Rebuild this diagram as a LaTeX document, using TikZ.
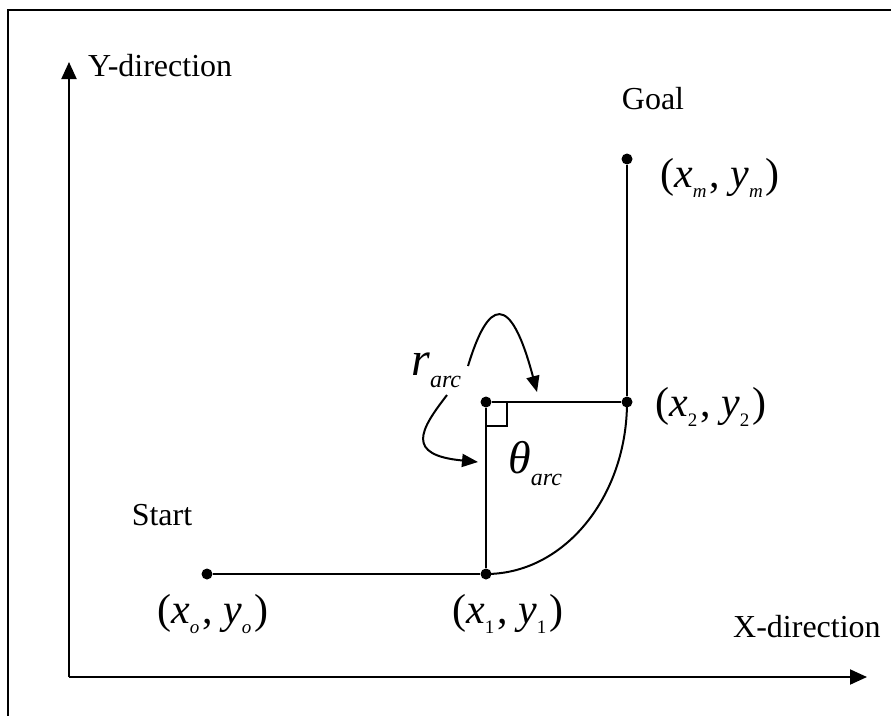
\documentclass[tikz,border=0pt]{standalone}
\usepackage{fontspec}
\setmainfont{Liberation Serif}
\usepackage{tikz}
\usetikzlibrary{arrows.meta, positioning}
\definecolor{colInk}{HTML}{000000}
\newcommand{\ptsub}[1]{\raisebox{-10pt}{\fontsize{19}{19}\selectfont #1}\kern3pt}
\newcommand{\arcsub}[1]{\raisebox{-12pt}{\fontsize{24}{24}\selectfont\itshape #1}}
\tikzset{
  waypt/.style={circle, fill=colInk, inner sep=0pt, minimum size=11pt},
  txtlbl/.style={inner sep=0pt, text=colInk,
    font=\fontsize{32}{36}\selectfont},
  mathlbl/.style={inner sep=0pt, text=colInk, anchor=base west,
    font=\fontsize{42}{48}\selectfont},
  pathline/.style={line width=2pt, draw=colInk},
  axisarr/.style={
    -{Triangle[length=17pt,width=15pt]},
    line width=2pt, draw=colInk
  },
  bendarr/.style={
    -{Triangle[length=16pt,width=13pt]},
    line width=2pt, draw=colInk
  }
}
\begin{document}
\begin{tikzpicture}[x=1pt, y=-1pt]
  \useasboundingbox (0,0) rectangle (891,715);
  \draw[line width=2.2pt, draw=colInk] (8,10) rectangle (930,760);
  % axes
  \coordinate (orig) at (69,677);
  \coordinate (ytip) at (69,62);
  \coordinate (xtip) at (867,677);
  \draw[axisarr] (orig) -- (ytip);
  \draw[axisarr] (orig) -- (xtip);
  \node[txtlbl, anchor=west] (ylbl) at (88,66) {Y-direction};
  \node[txtlbl, anchor=west] (xlbl) at (733,627) {X-direction};
  % way points
  \node[waypt] (start) at (207,574) {};
  \node[waypt] (p1)    at (486,574) {};
  \node[waypt] (ctr)   at (486,402) {};
  \node[waypt] (p2)    at (627,402) {};
  \node[waypt] (goal)  at (627,159) {};
  \draw[pathline] (start) -- (p1);
  \draw[pathline] (p1) -- (ctr);
  \draw[pathline] (ctr) -- (p2);
  \draw[pathline] (p2) -- (goal);
  \draw[pathline] (p1.center) .. controls +(78,0) and +(0,95) .. (p2.center);
  \draw[line width=1.5pt, draw=colInk]
    ([yshift=-24pt]ctr.center) -| ([xshift=21pt]ctr.center);
  % labels
  \node[txtlbl] (startlbl) at (162,515) {Start};
  \node[txtlbl] (goallbl)  at (653,99)  {Goal};
  \node[mathlbl] (lblo) at (157,623)
    {(\textit{x}\ptsub{\textit{o}}, \textit{y}\ptsub{\textit{o}})};
  \node[mathlbl] (lbl1) at (452,623)
    {(\textit{x}\ptsub{1}, \textit{y}\ptsub{1})};
  \node[mathlbl] (lbl2) at (655,416)
    {(\textit{x}\ptsub{2}, \textit{y}\ptsub{2})};
  \node[mathlbl] (lblm) at (660,187)
    {(\textit{x}\ptsub{\textit{m}}, \textit{y}\ptsub{\textit{m}})};
  \node[mathlbl, font=\fontsize{48}{50}\selectfont] (rlbl) at (411,375)
    {\textit{r}\arcsub{arc}};
  \node[mathlbl, font=\fontsize{46}{50}\selectfont] (thlbl) at (508,473)
    {\textit{θ}\arcsub{arc}};
  % bent arrows
  \coordinate (rup)   at (468,366);
  \coordinate (rdown) at (447,395);
  \coordinate (rtip1) at (537,392);
  \coordinate (rtip2) at (478,462);
  \draw[bendarr] (rup) .. controls (488,300) and (510,290) .. (rtip1);
  \draw[bendarr] (rdown) .. controls (420,430) and (405,455) .. (rtip2);
\end{tikzpicture}
\end{document}
